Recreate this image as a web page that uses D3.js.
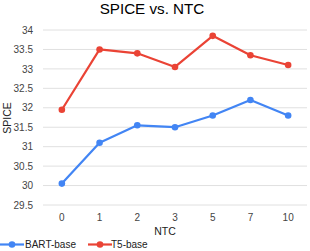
<!DOCTYPE html>
<html><head><meta charset="utf-8">
<script src="https://cdn.jsdelivr.net/npm/d3@7"></script>
<style>body{margin:0;background:#fff;}svg{display:block;font-family:"Liberation Sans",Arial,sans-serif;}</style>
</head><body><svg id="c" width="310" height="251"></svg>
<script>
const categories = ["0","1","2","3","5","7","10"];
const bartBase = [30.05, 31.1, 31.55, 31.5, 31.8, 32.2, 31.8];
const t5Base = [31.95, 33.5, 33.4, 33.05, 33.85, 33.35, 33.1];
const yTicks = [29.5, 30, 30.5, 31, 31.5, 32, 32.5, 33, 33.5, 34];
const seriesNames = ["BART-base", "T5-base"];
const colors = ["#4285F4", "#EA4335"];

const svg = d3.select("#c");
const x = d3.scaleBand().domain(categories).range([43, 307]);
const y = d3.scaleLinear().domain([29.5, 34]).range([205, 30]);

svg.append("text").attr("x", 152).attr("y", 14).attr("text-anchor", "middle")
  .attr("font-size", 15.2).attr("fill", "#000").text("SPICE vs. NTC");

const yAxis = d3.axisLeft(y).tickValues(yTicks).tickSize(0).tickFormat(d3.format("~g"));
const gy = svg.append("g").attr("transform", "translate(36,0)").call(yAxis);
gy.select(".domain").remove();
gy.selectAll("text").attr("font-size", 10).attr("fill", "#444").attr("font-family", "Liberation Sans, Arial, sans-serif");

svg.append("g").selectAll("line").data(yTicks).join("line")
  .attr("x1", 43).attr("x2", 307).attr("y1", d => y(d)).attr("y2", d => y(d))
  .attr("stroke", "#e0e0e0").attr("stroke-width", 1);

const xAxis = d3.axisBottom(x).tickSize(0);
const gx = svg.append("g").attr("transform", "translate(0,211)").call(xAxis);
gx.select(".domain").remove();
gx.selectAll("text").attr("font-size", 10).attr("fill", "#444").attr("font-family", "Liberation Sans, Arial, sans-serif");

svg.append("text").attr("x", 165).attr("y", 235).attr("text-anchor", "middle")
  .attr("font-size", 10.5).attr("fill", "#222").text("NTC");
svg.append("text").attr("transform", "translate(11,118) rotate(-90)").attr("text-anchor", "middle")
  .attr("font-size", 10.5).attr("fill", "#222").text("SPICE");

const series = [bartBase, t5Base];
const line = d3.line().x((d, i) => x(categories[i]) + x.bandwidth() / 2).y(d => y(d));
series.forEach((s, k) => {
  svg.append("path").datum(s).attr("d", line).attr("fill", "none")
    .attr("stroke", colors[k]).attr("stroke-width", 2.2).attr("stroke-linejoin", "round");
  svg.append("g").selectAll("circle").data(s).join("circle")
    .attr("cx", (d, i) => x(categories[i]) + x.bandwidth() / 2).attr("cy", d => y(d))
    .attr("r", 3.3).attr("fill", colors[k]);
});

const legendItems = [{x: 0, tx: 25}, {x: 88, tx: 111}];
legendItems.forEach((l, k) => {
  const g = svg.append("g");
  g.append("line").attr("x1", l.x).attr("x2", l.x + 24).attr("y1", 244.5).attr("y2", 244.5)
    .attr("stroke", colors[k]).attr("stroke-width", 2.2);
  g.append("circle").attr("cx", l.x + 12).attr("cy", 244.5).attr("r", 3.3).attr("fill", colors[k]);
  g.append("text").attr("x", l.tx).attr("y", 248).attr("font-size", 10).attr("fill", "#222").text(seriesNames[k]);
});
</script></body></html>
